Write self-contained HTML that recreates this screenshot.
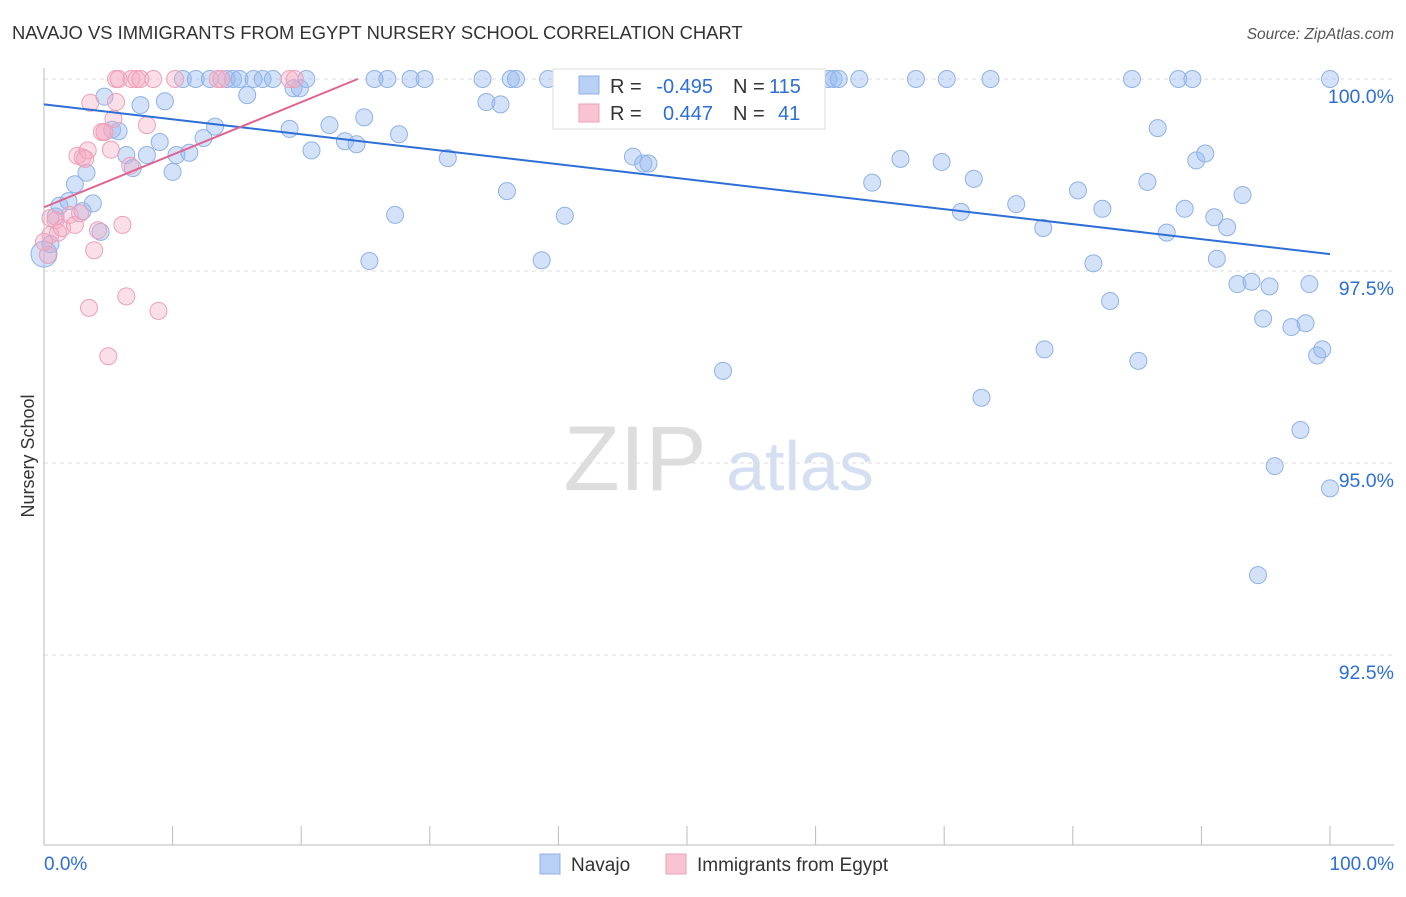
<!DOCTYPE html>
<html><head><meta charset="utf-8"><style>
body{margin:0;background:#fff;font-family:"Liberation Sans",sans-serif;}
svg text{font-family:"Liberation Sans",sans-serif;}
</style></head><body>
<svg id="chart" width="1406" height="892">
<text x="12" y="39" font-size="18.4" fill="#333">NAVAJO VS IMMIGRANTS FROM EGYPT NURSERY SCHOOL CORRELATION CHART</text>
<text x="1394" y="39" font-size="15.5" fill="#555" font-style="italic" text-anchor="end">Source: ZipAtlas.com</text>
<text x="34" y="456" font-size="18" fill="#333" transform="rotate(-90 34 456)" text-anchor="middle">Nursery School</text>
<g><text x="635" y="490" font-size="92" fill="#ddd" text-anchor="middle" font-family="Liberation Serif">ZIP</text><text x="800" y="490" font-size="70" fill="#d4e0f2" text-anchor="middle">atlas</text></g>
<g id="grid"></g><g id="axes"></g><g id="pts"></g><g id="trend"></g>
<g>
<rect x="553" y="69" width="272" height="60" fill="#fff" stroke="#ddd"/>
<rect x="579" y="76" width="20" height="18" fill="#b8d0f3" stroke="#8fb2e6"/>
<rect x="579" y="104" width="20" height="18" fill="#f8c4d4" stroke="#eda0b8"/>
<text x="610" y="93" font-size="20" fill="#333">R =</text>
<text x="713" y="93" font-size="20" fill="#2d6fd6" text-anchor="end">-0.495</text>
<text x="733" y="93" font-size="20" fill="#333">N =</text>
<text x="769" y="93" font-size="20" fill="#2d6fd6">115</text>
<text x="610" y="120" font-size="20" fill="#333">R =</text>
<text x="713" y="120" font-size="20" fill="#2d6fd6" text-anchor="end">0.447</text>
<text x="733" y="120" font-size="20" fill="#333">N =</text>
<text x="778" y="120" font-size="20" fill="#2d6fd6">41</text>
</g>
<g>
<rect x="540" y="854" width="20" height="20" fill="#b8d0f3" stroke="#8fb2e6"/>
<text x="571" y="871" font-size="19" fill="#333">Navajo</text>
<rect x="666" y="854" width="20" height="20" fill="#f8c4d4" stroke="#eda0b8"/>
<text x="697" y="871" font-size="19" fill="#333">Immigrants from Egypt</text>
</g>
</svg>
<script>
const yTicks=[100,97.5,95,92.5];
const yTickLabels=["100.0%","97.5%","95.0%","92.5%"];
const xTickLabels=["0.0%","100.0%"];
const navajoX=[0,0.5,0.9,1.2,1.9,2.4,3,3.3,3.8,4.4,4.7,5.3,5.8,6.4,6.9,7.5,8,9,9.4,10,10.3,10.8,11.3,11.8,12.4,12.9,13.3,14.2,14.7,15.2,15.8,16.3,17,17.8,19.1,19.4,19.9,20.4,20.8,22.2,23.4,24.3,24.9,25.3,25.7,26.7,27.3,27.6,28.5,29.6,31.4,34.1,34.4,35.5,36,36.3,36.7,38.7,39.2,40.5,40.9,45.8,46.6,47,52.8,54.6,56.5,61,61.4,61.8,63.4,64.4,66.6,67.8,69.8,70.2,71.3,72.3,72.9,73.6,75.6,77.7,77.8,80.4,81.6,82.3,82.9,84.6,85.1,85.8,86.6,87.3,88.2,88.7,89.3,89.6,90.3,91,91.2,92,92.8,93.2,93.9,94.4,94.8,95.3,95.7,97,97.7,98.1,98.4,99,99.4,100,100];
const navajoY=[97.72,97.85,98.21,98.35,98.41,98.63,98.28,98.78,98.38,98.01,99.77,99.34,99.32,99.01,98.84,99.66,99.01,99.18,99.71,98.79,99.01,100,99.04,100,99.23,100,99.38,100,100,100,99.79,100,100,100,99.35,99.88,99.88,100,99.07,99.4,99.19,99.15,99.5,97.63,100,100,98.23,99.28,100,100,98.97,100,99.7,99.67,98.54,100,100,97.64,100,98.22,100,98.99,98.9,98.9,96.2,100,99.79,100,100,100,100,98.65,98.96,100,98.92,100,98.27,98.7,95.85,100,98.37,98.06,96.48,98.55,97.6,98.31,97.11,100,96.33,98.66,99.36,98,100,98.31,100,98.94,99.03,98.2,97.66,98.07,97.33,98.49,97.36,93.54,96.88,97.3,94.96,96.77,95.43,96.82,97.33,96.4,96.48,94.67,100];
const egyptX=[0.3,0.5,0.9,1.1,1.4,2,2.4,2.6,2.8,3,3.2,3.4,3.6,3.9,4.2,4.5,4.7,5,5.2,5.4,5.6,5.6,5.8,6.1,6.4,6.7,6.8,7.2,7.5,8,8.5,8.9,10.2,13.5,13.8,19.1,19.5,3.5,0,0.5,4.7];
const egyptY=[97.71,97.97,98.16,98.0,98.06,98.23,98.1,99.0,98.25,98.98,98.96,99.07,99.69,97.77,98.03,99.31,99.31,96.39,99.08,99.48,100,99.7,100,98.1,97.17,98.87,100,100,100,99.4,100,96.98,100,100,100,100,100,97.02,97.88,98.19,99.31];
const trendNavajo=[99.67,97.72];
const trendEgypt=[98.33,100];
const trendEgyptX=[0,24.4];
const NS="http://www.w3.org/2000/svg";
const X0=44,X1=1330,YT=79,PY=76.8;
const sx=v=>X0+(X1-X0)*v/100;
const sy=v=>YT+(100-v)*PY;
function mk(t,a,p){const e=document.createElementNS(NS,t);for(const k in a)e.setAttribute(k,a[k]);p.appendChild(e);return e;}
const grid=document.getElementById('grid'),axes=document.getElementById('axes'),pts=document.getElementById('pts'),trend=document.getElementById('trend');
yTicks.forEach((t,i)=>{
 const l=mk('line',{x1:X0,x2:1394,y1:sy(t),y2:sy(t),stroke:'#ddd','stroke-dasharray':'4,4'},grid);
 
 
 const tx=mk('text',{x:1394,y:sy(t)+24,'font-size':19.5,fill:'#2d6fd6','text-anchor':'end'},grid);
 tx.textContent=yTickLabels[i];
 
 
});
const ax=mk('line',{x1:X0,x2:1394,y1:845,y2:845,stroke:'#bbb'},axes);


const ay=mk('line',{x1:X0,x2:X0,y1:68,y2:845,stroke:'#bbb'},axes);


for(let i=0;i<=10;i++){
 const t=mk('line',{x1:sx(i*10),x2:sx(i*10),y1:826,y2:845,stroke:'#bbb'},axes);
 
 
}
[[0,'start',44],[100,'end',1394]].forEach((d,i)=>{
 const t=mk('text',{x:d[2],y:870,'font-size':19,fill:'#2d6fd6','text-anchor':d[1]},axes);
 t.textContent=xTickLabels[i];
 
 
});
navajoX.forEach((v,i)=>{
 const c=mk('circle',{cx:sx(v),cy:sy(navajoY[i]),r:i==0?13:8.5,fill:'rgba(150,185,240,0.42)',stroke:'#8fb2e6','stroke-width':1},pts);
 
 
});
egyptX.forEach((v,i)=>{
 const c=mk('circle',{cx:sx(v),cy:sy(egyptY[i]),r:8.5,fill:'rgba(245,170,195,0.38)',stroke:'#eda0b8','stroke-width':1},pts);
 
 
});
const t1=mk('line',{x1:sx(0),y1:sy(trendNavajo[0]),x2:sx(100),y2:sy(trendNavajo[1]),stroke:'#2d6fd6','stroke-width':2},trend);


const t2=mk('line',{x1:sx(trendEgyptX[0]),y1:sy(trendEgypt[0]),x2:sx(trendEgyptX[1]),y2:sy(trendEgypt[1]),stroke:'#e0638f','stroke-width':2},trend);


</script>
</body></html>
